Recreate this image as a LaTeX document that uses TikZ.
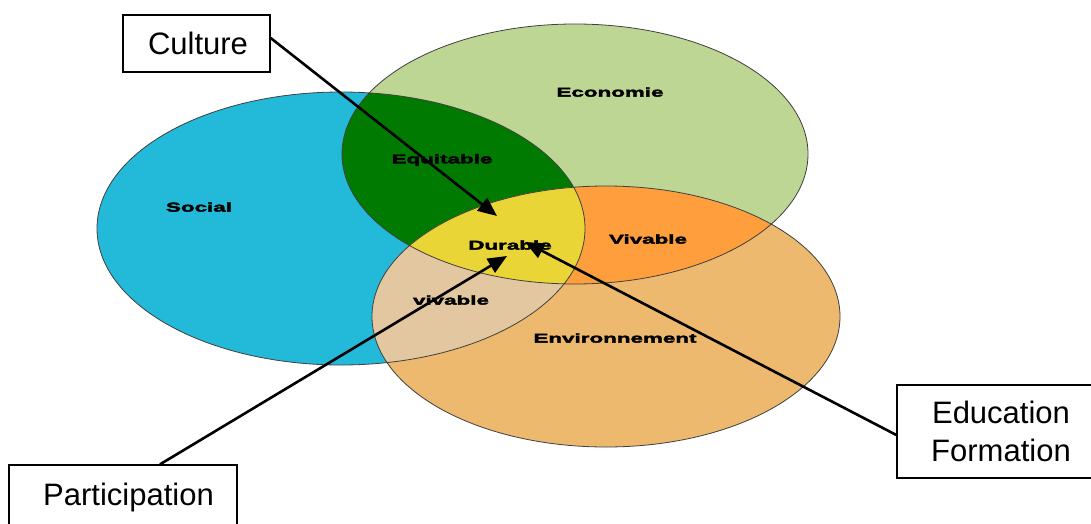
\documentclass[tikz,border=0pt]{standalone}
\usepackage{fontspec}
\setmainfont{Liberation Sans}
\newfontfamily\lblfont[FakeStretch=1.75,FakeBold=3]{Liberation Sans}
\usetikzlibrary{arrows.meta}
\definecolor{socialc}{HTML}{23B9D9}
\definecolor{econc}{HTML}{BDD694}
\definecolor{envc}{HTML}{EDB96E}
\definecolor{greenc}{HTML}{007A00}
\definecolor{beigec}{HTML}{E2C7A0}
\definecolor{orangec}{HTML}{FF9E3C}
\definecolor{yellowc}{HTML}{EAD536}
\begin{document}
\begin{tikzpicture}[x=1pt,y=-1pt,
  venn/.style={draw=black!75, line width=0.8pt},
  lbl/.style={font=\lblfont\bfseries\fontsize{12.8}{14}\selectfont, inner sep=0pt},
  box/.style={draw=black, line width=1.3pt, fill=white, font=\fontsize{31}{38}\selectfont, inner sep=0pt, align=center},
  pointer/.style={line width=2.6pt, -{Triangle[length=19pt,width=16pt]}}]
\useasboundingbox (0,0) rectangle (1091,524);
\def\social{(341,228.5) ellipse [x radius=244, y radius=136.5]}
\def\econ{(575,154) ellipse [x radius=233, y radius=130]}
\def\env{(606,316.5) ellipse [x radius=234, y radius=130.5]}
% base fills
\fill[socialc] \social;
\fill[econc] \econ;
\fill[envc] \env;
% pairwise intersections
\begin{scope}
  \clip \social;
  \fill[greenc] \econ;
  \fill[beigec] \env;
\end{scope}
\begin{scope}
  \clip \econ;
  \fill[orangec] \env;
\end{scope}
% triple intersection
\begin{scope}
  \clip \social;
  \clip \econ;
  \fill[yellowc] \env;
\end{scope}
% outlines
\draw[venn] \social;
\draw[venn] \econ;
\draw[venn] \env;
% region labels
\node[lbl] (social) at (199,207) {Social};
\node[lbl] (economie) at (610,92) {Economie};
\node[lbl] (equitable) at (442,160) {Equitable};
\node[lbl] (durable) at (510,245) {Durable};
\node[lbl] (vivable1) at (648,239) {Vivable};
\node[lbl] (vivable2) at (451,300) {vivable};
\node[lbl] (environnement) at (615,338) {Environnement};
% boxes
\node[box, minimum width=147pt, minimum height=57pt] (culture) at (196.5,43.5) {\hspace*{3pt}Culture};
\node[box, minimum width=228pt, minimum height=64pt] (participation) at (123,497) {\hspace*{11pt}Participation};
\node[box, minimum width=208pt, minimum height=93pt] (education) at (1001,431.5) {Education\\Formation};
% arrow tips
\coordinate (culturetip) at (497,216);
\coordinate (participationtip) at (507,256);
\coordinate (educationtip) at (525,242);
% arrows
\draw[pointer] ([yshift=5.5pt]culture.east) -- (culturetip);
\draw[pointer] ([xshift=37pt]participation.north) -- (participationtip);
\draw[pointer] ([yshift=-3.5pt]education.west) -- (educationtip);
\end{tikzpicture}
\end{document}
